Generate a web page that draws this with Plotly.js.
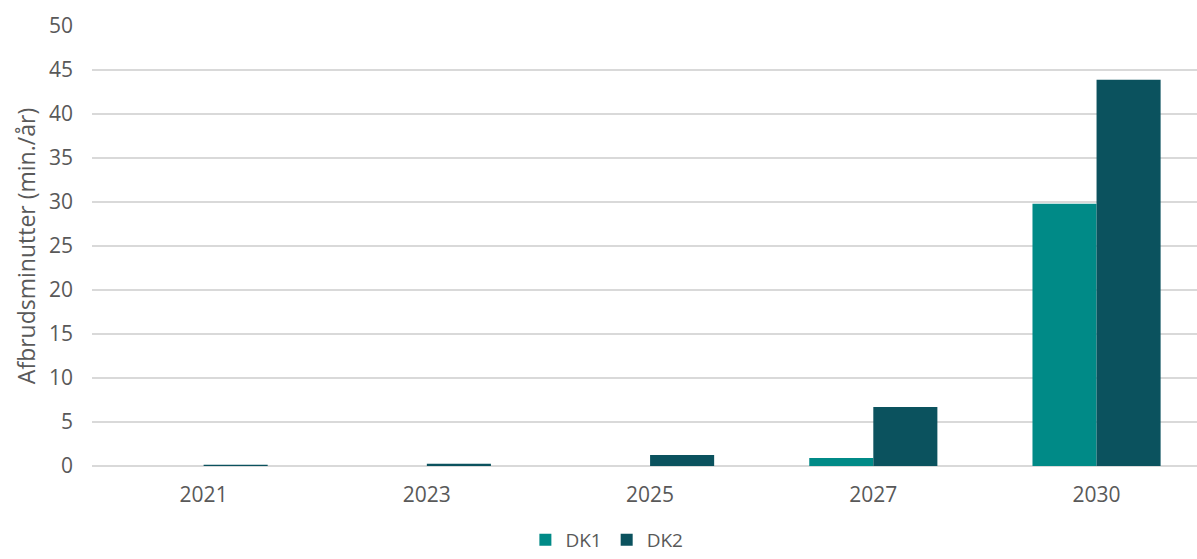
<!DOCTYPE html>
<html>
<head>
<meta charset="utf-8">
<script src="https://cdn.plot.ly/plotly-3.0.1.min.js"></script>
<style>html,body{margin:0;padding:0;background:#fff;}#chart{width:1197px;height:559px;}</style>
</head>
<body>
<div id="chart"></div>
<script>
var years = ["2021", "2023", "2025", "2027", "2030"];
var dk1 = [0, 0, 0, 0.9, 29.8];
var dk2 = [0.15, 0.25, 1.25, 6.7, 43.9];
var yTicks = [0, 5, 10, 15, 20, 25, 30, 35, 40, 45, 50];

var fam = "Open Sans, Noto Sans, sans-serif";
var font = {family: fam, size: 21, color: "#595959"};

var traces = [
  {type: "bar", name: "DK1", x: years, y: dk1, marker: {color: "#008A87"}},
  {type: "bar", name: "DK2", x: years, y: dk2, marker: {color: "#0B525E"}}
];

var layout = {
  width: 1197, height: 559,
  margin: {l: 92, r: 0, t: 26, b: 93},
  paper_bgcolor: "#fff", plot_bgcolor: "#fff",
  font: font,
  barmode: "group", bargap: 0.426, bargroupgap: 0,
  showlegend: true,
  legend: {orientation: "h", xref: "container", yref: "container", x: 0.507, xanchor: "center", y: 0.0, yanchor: "bottom", font: {family: fam, size: 19, color: "#595959"}, itemwidth: 20, traceorder: "normal"},
  xaxis: {type: "category", range: [-0.5, 4.45], showgrid: false, zeroline: false, showline: false, ticks: "", tickfont: font, ticklabelstandoff: 14},
  yaxis: {range: [0, 50], tickvals: yTicks, showgrid: true, gridcolor: "#d9d9d9", gridwidth: 1.5, zeroline: true, zerolinecolor: "#d9d9d9", zerolinewidth: 1.5, showline: false, ticks: "", tickfont: font, ticklabelstandoff: 18,
    title: {text: "Afbrudsminutter (min./år)", font: {family: fam, size: 23, color: "#595959"}, standoff: 6}}
};

Plotly.newPlot("chart", traces, layout, {displayModeBar: false, staticPlot: true});
</script>
</body>
</html>
